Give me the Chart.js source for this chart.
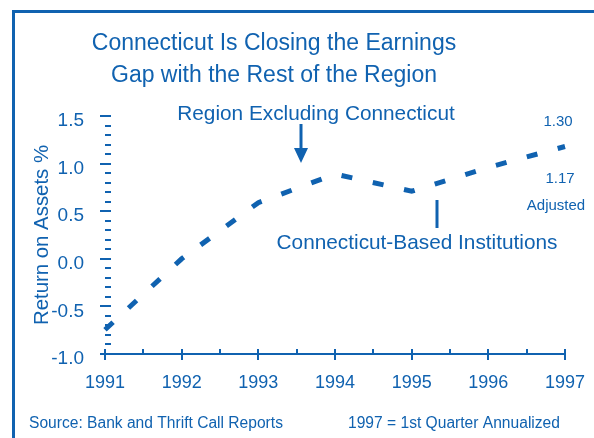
<!DOCTYPE html>
<html>
<head>
<meta charset="utf-8">
<script src="https://cdn.jsdelivr.net/npm/chart.js@4/dist/chart.umd.min.js"></script>
<style>
  html, body { margin: 0; padding: 0; background: #fff; overflow: hidden; }
  #wrap { position: relative; width: 594px; height: 438px; }
  #frame {
    position: absolute; left: 12px; top: 10px; width: 620px; height: 460px;
    border: 3px solid #1062b0; box-sizing: border-box;
  }
  canvas { position: absolute; left: 0; top: 0; }
</style>
</head>
<body>
<div id="wrap">
  <div id="frame"></div>
  <canvas id="roaChart" width="594" height="438"></canvas>
</div>
<script>
(function () {
    "use strict";

    // chart data
    var years = ["1991", "1992", "1993", "1994", "1995", "1996", "1997"];
    var ctValues = [-0.745, 0.0, 0.59, 0.89, 0.71, 0.96, 1.18];
    var yMin = -1.0;
    var yMax = 1.5;
    var yStep = 0.5;
    var yMinorStep = 0.1;

    var blue = "#1062b0";
    var font = "'Liberation Sans', Arial, sans-serif";

    // titles, tick marks and notes drawn on top
    var decorations = {
        id: "decorations",
        afterDraw: function (chart) {
            var c = chart.ctx;
            var xs = chart.scales.x;
            var ys = chart.scales.y;
            c.save();
            c.strokeStyle = blue;
            c.fillStyle = blue;
            c.lineWidth = 2;

            // y axis ticks
            var axisX = Math.round(xs.getPixelForValue(0));
            var n = Math.round((yMax - yMin) / yMinorStep);
            for (var i = 0; i <= n; i++) {
                var v = yMin + i * yMinorStep;
                var py = Math.round(ys.getPixelForValue(v));
                var major = i % 5 === 0;
                c.beginPath();
                c.moveTo(major ? axisX - 5 : axisX, py);
                c.lineTo(axisX + 6, py);
                c.stroke();
            }

            // x axis ticks
            var axisY = Math.round(ys.getPixelForValue(yMin));
            for (var j = 0; j < years.length; j++) {
                var px = Math.round(xs.getPixelForValue(j));
                c.beginPath();
                c.moveTo(px, axisY - 5);
                c.lineTo(px, axisY + 6);
                c.stroke();
                if (j < years.length - 1) {
                    var mx = Math.round((xs.getPixelForValue(j) + xs.getPixelForValue(j + 1)) / 2);
                    c.beginPath();
                    c.moveTo(mx, axisY - 5);
                    c.lineTo(mx, axisY);
                    c.stroke();
                }
            }

            // title
            c.textAlign = "center";
            c.textBaseline = "alphabetic";
            c.font = "23px " + font;
            c.fillText("Connecticut Is Closing the Earnings", 274, 50);
            c.fillText("Gap with the Rest of the Region", 274, 82);

            // series notes
            c.font = "20.8px " + font;
            c.fillText("Region Excluding Connecticut", 316, 120);
            c.fillText("Connecticut-Based Institutions", 417, 249);

            c.lineWidth = 3;
            c.beginPath();
            c.moveTo(301, 124);
            c.lineTo(301, 150);
            c.stroke();
            c.beginPath();
            c.moveTo(294, 148);
            c.lineTo(308, 148);
            c.lineTo(301, 163);
            c.closePath();
            c.fill();

            c.beginPath();
            c.moveTo(437, 200);
            c.lineTo(437, 228);
            c.stroke();

            c.font = "15px " + font;
            c.fillText("1.30", 558, 126);
            c.fillText("1.17", 560, 183);
            c.fillText("Adjusted", 556, 210);

            // footer
            c.textAlign = "left";
            c.font = "15.6px " + font;
            c.fillText("Source: Bank and Thrift Call Reports", 29, 428);
            c.fillText("1997 = 1st Quarter Annualized", 348, 428);
            c.restore();
        }
    };

    var ctx = document.getElementById("roaChart");
    var myChart = new Chart(ctx, {
        type: "line",
        data: {
            labels: years,
            datasets: [
                {
                    label: "Connecticut-Based Institutions",
                    data: ctValues,
                    borderColor: blue,
                    borderWidth: 5,
                    borderDash: [11, 21],
                    borderCapStyle: "butt",
                    pointRadius: 0,
                    tension: 0,
                    fill: false,
                },
            ],
        },
        options: {
            responsive: false,
            animation: false,
            layout: {
                padding: { top: 116, right: 29, left: 0, bottom: 0 },
            },
            plugins: {
                legend: { display: false },
                tooltip: { enabled: false },
            },
            scales: {
                x: {
                    offset: false,
                    grid: { display: false, drawTicks: true, tickLength: 18 },
                    border: { display: true, color: blue, width: 2 },
                    ticks: {
                        color: blue,
                        padding: 0,
                        maxRotation: 0,
                        autoSkip: false,
                        font: { family: font, size: 18 },
                    },
                    afterFit: function (scale) {
                        scale.height = 84;
                    },
                },
                y: {
                    min: yMin,
                    max: yMax,
                    grid: { display: false, drawTicks: false },
                    border: { display: false },
                    ticks: {
                        stepSize: yStep,
                        color: blue,
                        padding: 21,
                        labelOffset: 5,
                        font: { family: font, size: 19 },
                        callback: function (value) {
                            return value.toFixed(1);
                        },
                    },
                    title: {
                        display: true,
                        text: "Return on Assets %",
                        color: blue,
                        padding: { top: 30, bottom: 0 },
                        font: { family: font, size: 20.4 },
                    },
                    afterFit: function (scale) {
                        scale.width = 105;
                    },
                },
            },
        },
        plugins: [decorations],
    });
})();
</script>
</body>
</html>
